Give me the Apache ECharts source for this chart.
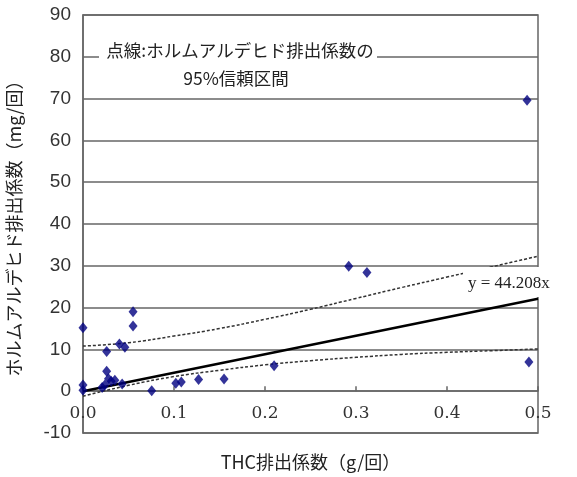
<!DOCTYPE html>
<html>
<head>
<meta charset="utf-8">
<script src="https://cdn.jsdelivr.net/npm/echarts@6/dist/echarts.min.js"></script>
<style>html,body{margin:0;padding:0;background:#fff;}#c{width:577px;height:477px;}</style>
</head>
<body>
<div id="c"></div>
<script>
// scatter data (THC g/回, ホルムアルデヒド mg/回)
const ptX = [0, 0, 0, 0.021, 0.024, 0.026, 0.026, 0.028, 0.031, 0.035, 0.040, 0.043, 0.046, 0.055, 0.055, 0.0755, 0.102, 0.108, 0.127, 0.155, 0.210, 0.292, 0.312, 0.488, 0.490];
const ptY = [15.2, 1.5, 0.2, 0.9, 1.5, 9.5, 4.8, 3.0, 2.4, 2.6, 11.3, 1.7, 10.5, 19.0, 15.6, 0.1, 1.9, 2.2, 2.8, 2.9, 6.1, 29.9, 28.4, 69.6, 7.0];
// regression line y = 44.208x
const fitX = [0, 0.5];
const fitY = [0, 22.1];
// 95% confidence band (dotted)
const ciX = [0, 0.05, 0.1, 0.15, 0.2, 0.25, 0.3, 0.35, 0.4, 0.45, 0.5];
const ciUpper = [10.8, 11.6, 13.2, 15.0, 17.2, 19.6, 22.2, 24.8, 27.3, 29.8, 32.3];
const ciLower = [-1.2, 1.4, 3.5, 5.0, 6.3, 7.3, 8.1, 8.8, 9.3, 9.7, 10.1];
const xTicks = [0, 0.1, 0.2, 0.3, 0.4, 0.5];
const yTicks = [-10, 0, 10, 20, 30, 40, 50, 60, 70, 80, 90];

const zip = (a, b) => a.map((v, i) => [v, b[i]]);
const chart = echarts.init(document.getElementById('c'), null, {renderer: 'canvas'});
const lineCol = '#666';
const gridTop = 15, gridH = 418;
const yMin = yTicks[0], yMax = yTicks[yTicks.length - 1];
// shift the x axis up so that it sits on y = 0
const zeroOffset = -gridH * (0 - yMin) / (yMax - yMin);
chart.setOption({
  animation: false,
  backgroundColor: '#fff',
  grid: {left: 83, top: gridTop, width: 455, height: gridH, outerBoundsMode: 'none', containLabel: false, show: true, borderColor: lineCol, borderWidth: 1.5, backgroundColor: 'transparent'},
  xAxis: {
    type: 'value', min: xTicks[0], max: xTicks[xTicks.length - 1], interval: 0.1,
    position: 'bottom', offset: zeroOffset,
    name: 'THC排出係数（g/回）', nameLocation: 'middle', nameGap: 62,
    nameTextStyle: {fontFamily: 'Noto Sans CJK JP', fontSize: 18, color: '#222'},
    axisLine: {show: true, onZero: false, lineStyle: {color: lineCol, width: 1.5}},
    axisTick: {show: true, inside: true, length: 5, lineStyle: {color: lineCol, width: 1.5}},
    axisLabel: {margin: 14, fontFamily: 'DejaVu Serif', fontSize: 17, color: '#333', formatter: v => v.toFixed(1), showMinLabel: true, showMaxLabel: true, hideOverlap: false},
    splitLine: {show: false}
  },
  yAxis: {
    type: 'value', min: yMin, max: yMax, interval: 10,
    name: 'ホルムアルデヒド排出係数（mg/回）', nameLocation: 'middle', nameGap: 60,
    nameTextStyle: {fontFamily: 'Noto Sans CJK JP', fontSize: 18, color: '#222'},
    axisLine: {show: true, lineStyle: {color: lineCol, width: 1.5}},
    axisTick: {show: false},
    axisLabel: {margin: 12, fontFamily: 'Liberation Sans', fontSize: 19, color: '#333', showMinLabel: true, showMaxLabel: true},
    splitLine: {show: true, lineStyle: {color: lineCol, width: 1.5}}
  },
  series: [
    {type: 'line', data: zip(ciX, ciUpper), smooth: true, symbol: 'none', lineStyle: {color: '#333', width: 1.5, type: [3, 2]}, z: 3},
    {type: 'line', data: zip(ciX, ciLower), smooth: true, symbol: 'none', lineStyle: {color: '#333', width: 1.5, type: [3, 2]}, z: 3},
    {type: 'line', data: zip(fitX, fitY), symbol: 'none', lineStyle: {color: '#000', width: 2.5}, z: 4},
    {type: 'scatter', data: zip(ptX, ptY), symbol: 'diamond', symbolSize: [9, 11], itemStyle: {color: '#000080'}, z: 5}
  ],
  graphic: [
    {type: 'rect', z: 100, shape: {x: 99, y: 38, width: 278, height: 24}, style: {fill: '#fff'}},
    {type: 'text', z: 101, style: {text: '点線:ホルムアルデヒド排出係数の', x: 240, y: 50, align: 'center', verticalAlign: 'middle', font: '17.5px "Noto Sans CJK JP"', fill: '#222'}},
    {type: 'text', z: 101, style: {text: '95%信頼区間', x: 236, y: 78, align: 'center', verticalAlign: 'middle', font: '17.5px "Noto Sans CJK JP"', fill: '#222'}},
    {type: 'rect', z: 100, shape: {x: 463, y: 267, width: 94, height: 30}, style: {fill: '#fff'}},
    {type: 'text', z: 101, style: {text: 'y = 44.208x', x: 468, y: 284, align: 'left', verticalAlign: 'middle', font: '17px "Liberation Serif"', fill: '#222'}}
  ]
});
</script>
</body>
</html>
